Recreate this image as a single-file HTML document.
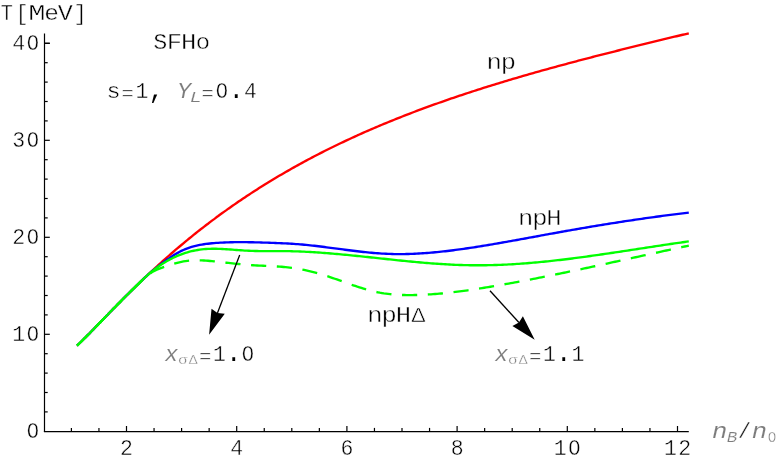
<!DOCTYPE html>
<html><head><meta charset="utf-8"><title>T vs nB</title>
<style>
html,body{margin:0;padding:0;background:#fff;}
svg{display:block;}
text{font-family:"Liberation Mono",monospace;}
</style></head>
<body>
<svg width="778" height="461" viewBox="0 0 778 461">
<rect width="778" height="461" fill="#fff"/>
<g stroke="#000" stroke-width="1.2" fill="none">
<line x1="44.5" y1="33.4" x2="44.5" y2="431.9"/>
<line x1="43.9" y1="431.6" x2="688.8" y2="431.6"/>
<line x1="71.40" y1="431.3" x2="71.40" y2="427.90"/><line x1="98.95" y1="431.3" x2="98.95" y2="427.90"/><line x1="126.50" y1="431.3" x2="126.50" y2="426.00"/><line x1="154.05" y1="431.3" x2="154.05" y2="427.90"/><line x1="181.60" y1="431.3" x2="181.60" y2="427.90"/><line x1="209.15" y1="431.3" x2="209.15" y2="427.90"/><line x1="236.70" y1="431.3" x2="236.70" y2="426.00"/><line x1="264.25" y1="431.3" x2="264.25" y2="427.90"/><line x1="291.80" y1="431.3" x2="291.80" y2="427.90"/><line x1="319.35" y1="431.3" x2="319.35" y2="427.90"/><line x1="346.90" y1="431.3" x2="346.90" y2="426.00"/><line x1="374.45" y1="431.3" x2="374.45" y2="427.90"/><line x1="402.00" y1="431.3" x2="402.00" y2="427.90"/><line x1="429.55" y1="431.3" x2="429.55" y2="427.90"/><line x1="457.10" y1="431.3" x2="457.10" y2="426.00"/><line x1="484.65" y1="431.3" x2="484.65" y2="427.90"/><line x1="512.20" y1="431.3" x2="512.20" y2="427.90"/><line x1="539.75" y1="431.3" x2="539.75" y2="427.90"/><line x1="567.30" y1="431.3" x2="567.30" y2="426.00"/><line x1="594.85" y1="431.3" x2="594.85" y2="427.90"/><line x1="622.40" y1="431.3" x2="622.40" y2="427.90"/><line x1="649.95" y1="431.3" x2="649.95" y2="427.90"/><line x1="677.50" y1="431.3" x2="677.50" y2="426.00"/>
<line x1="44.5" y1="411.90" x2="47.70" y2="411.90"/><line x1="44.5" y1="392.50" x2="47.70" y2="392.50"/><line x1="44.5" y1="373.10" x2="47.70" y2="373.10"/><line x1="44.5" y1="353.70" x2="47.70" y2="353.70"/><line x1="44.5" y1="334.30" x2="49.80" y2="334.30"/><line x1="44.5" y1="314.90" x2="47.70" y2="314.90"/><line x1="44.5" y1="295.50" x2="47.70" y2="295.50"/><line x1="44.5" y1="276.10" x2="47.70" y2="276.10"/><line x1="44.5" y1="256.70" x2="47.70" y2="256.70"/><line x1="44.5" y1="237.30" x2="49.80" y2="237.30"/><line x1="44.5" y1="217.90" x2="47.70" y2="217.90"/><line x1="44.5" y1="198.50" x2="47.70" y2="198.50"/><line x1="44.5" y1="179.10" x2="47.70" y2="179.10"/><line x1="44.5" y1="159.70" x2="47.70" y2="159.70"/><line x1="44.5" y1="140.30" x2="49.80" y2="140.30"/><line x1="44.5" y1="120.90" x2="47.70" y2="120.90"/><line x1="44.5" y1="101.50" x2="47.70" y2="101.50"/><line x1="44.5" y1="82.10" x2="47.70" y2="82.10"/><line x1="44.5" y1="62.70" x2="47.70" y2="62.70"/><line x1="44.5" y1="43.30" x2="49.80" y2="43.30"/><line x1="44.5" y1="43.30" x2="49.8" y2="43.30"/>
</g>
<g fill="none" stroke-width="2.35" stroke-linejoin="round">
<path d="M77.0,345.70 L79.0,343.75 L81.1,341.77 L83.1,339.75 L85.2,337.71 L87.2,335.65 L89.3,333.58 L91.3,331.49 L93.4,329.39 L95.4,327.29 L97.5,325.18 L99.5,323.06 L101.6,320.95 L103.6,318.83 L105.6,316.72 L107.7,314.61 L109.7,312.50 L111.8,310.40 L113.8,308.30 L115.9,306.21 L117.9,304.13 L120.0,302.06 L122.0,299.99 L124.1,297.94 L126.1,295.89 L128.2,293.85 L130.2,291.83 L132.2,289.81 L134.3,287.80 L136.3,285.81 L138.4,283.83 L140.4,281.86 L142.5,279.90 L144.5,277.95 L146.6,276.01 L148.6,274.09 L150.7,272.18 L152.7,270.28 L154.8,268.39 L156.8,266.52 L158.8,264.66 L160.9,262.81 L162.9,260.97 L165.0,259.15 L167.0,257.34 L169.1,255.54 L171.1,253.75 L173.2,251.98 L175.2,250.22 L177.3,248.47 L179.3,246.74 L181.4,245.01 L183.4,243.30 L185.4,241.60 L187.5,239.92 L189.5,238.24 L191.6,236.58 L193.6,234.93 L195.7,233.29 L197.7,231.67 L199.8,230.05 L201.8,228.45 L203.9,226.86 L205.9,225.28 L208.0,223.72 L210.0,222.16 L212.0,220.62 L214.1,219.09 L216.1,217.56 L218.2,216.06 L220.2,214.56 L222.3,213.07 L224.3,211.59 L226.4,210.13 L228.4,208.67 L230.5,207.23 L232.5,205.80 L234.6,204.37 L236.6,202.96 L238.6,201.56 L240.7,200.17 L242.7,198.79 L244.8,197.42 L246.8,196.06 L248.9,194.71 L250.9,193.37 L253.0,192.04 L255.0,190.72 L257.1,189.40 L259.1,188.10 L261.2,186.81 L263.2,185.53 L265.2,184.26 L267.3,182.99 L269.3,181.74 L271.4,180.49 L273.4,179.26 L275.5,178.03 L277.5,176.81 L279.6,175.60 L281.6,174.40 L283.7,173.21 L285.7,172.02 L287.8,170.85 L289.8,169.68 L291.8,168.52 L293.9,167.37 L295.9,166.23 L298.0,165.10 L300.0,163.97 L302.1,162.86 L304.1,161.75 L306.2,160.65 L308.2,159.55 L310.3,158.47 L312.3,157.39 L314.4,156.32 L316.4,155.25 L318.4,154.20 L320.5,153.15 L322.5,152.11 L324.6,151.07 L326.6,150.04 L328.7,149.02 L330.7,148.01 L332.8,147.01 L334.8,146.01 L336.9,145.01 L338.9,144.03 L341.0,143.05 L343.0,142.08 L345.0,141.11 L347.1,140.15 L349.1,139.20 L351.2,138.25 L353.2,137.31 L355.3,136.38 L357.3,135.45 L359.4,134.53 L361.4,133.61 L363.5,132.70 L365.5,131.80 L367.6,130.90 L369.6,130.01 L371.6,129.12 L373.7,128.24 L375.7,127.37 L377.8,126.50 L379.8,125.64 L381.9,124.78 L383.9,123.92 L386.0,123.08 L388.0,122.24 L390.1,121.40 L392.1,120.57 L394.2,119.74 L396.2,118.92 L398.2,118.10 L400.3,117.29 L402.3,116.48 L404.4,115.68 L406.4,114.89 L408.5,114.09 L410.5,113.31 L412.6,112.52 L414.6,111.75 L416.7,110.97 L418.7,110.21 L420.8,109.44 L422.8,108.68 L424.8,107.93 L426.9,107.17 L428.9,106.43 L431.0,105.69 L433.0,104.95 L435.1,104.21 L437.1,103.48 L439.2,102.76 L441.2,102.04 L443.3,101.32 L445.3,100.60 L447.4,99.89 L449.4,99.19 L451.4,98.48 L453.5,97.79 L455.5,97.09 L457.6,96.40 L459.6,95.71 L461.7,95.03 L463.7,94.35 L465.8,93.67 L467.8,93.00 L469.9,92.33 L471.9,91.66 L474.0,91.00 L476.0,90.34 L478.0,89.68 L480.1,89.03 L482.1,88.38 L484.2,87.73 L486.2,87.09 L488.3,86.44 L490.3,85.81 L492.4,85.17 L494.4,84.54 L496.5,83.91 L498.5,83.28 L500.6,82.66 L502.6,82.04 L504.6,81.42 L506.7,80.81 L508.7,80.19 L510.8,79.58 L512.8,78.98 L514.9,78.37 L516.9,77.77 L519.0,77.17 L521.0,76.57 L523.1,75.98 L525.1,75.39 L527.2,74.80 L529.2,74.21 L531.2,73.63 L533.3,73.04 L535.3,72.46 L537.4,71.89 L539.4,71.31 L541.5,70.74 L543.5,70.16 L545.6,69.59 L547.6,69.03 L549.7,68.46 L551.7,67.90 L553.8,67.34 L555.8,66.78 L557.8,66.22 L559.9,65.66 L561.9,65.11 L564.0,64.56 L566.0,64.01 L568.1,63.46 L570.1,62.91 L572.2,62.37 L574.2,61.82 L576.3,61.28 L578.3,60.74 L580.4,60.20 L582.4,59.67 L584.4,59.13 L586.5,58.60 L588.5,58.07 L590.6,57.54 L592.6,57.01 L594.7,56.48 L596.7,55.95 L598.8,55.43 L600.8,54.90 L602.9,54.38 L604.9,53.86 L607.0,53.34 L609.0,52.82 L611.0,52.30 L613.1,51.79 L615.1,51.27 L617.2,50.76 L619.2,50.24 L621.3,49.73 L623.3,49.22 L625.4,48.71 L627.4,48.20 L629.5,47.69 L631.5,47.19 L633.6,46.68 L635.6,46.18 L637.6,45.67 L639.7,45.17 L641.7,44.67 L643.8,44.17 L645.8,43.67 L647.9,43.17 L649.9,42.67 L652.0,42.17 L654.0,41.67 L656.1,41.17 L658.1,40.68 L660.2,40.18 L662.2,39.69 L664.2,39.19 L666.3,38.70 L668.3,38.20 L670.4,37.71 L672.4,37.22 L674.5,36.73 L676.5,36.24 L678.6,35.74 L680.6,35.25 L682.7,34.76 L684.7,34.27 L686.8,33.79 L688.8,33.30" stroke="#ff0000"/>
<path d="M77.0,345.70 L79.0,343.75 L81.1,341.77 L83.1,339.75 L85.2,337.71 L87.2,335.65 L89.3,333.58 L91.3,331.49 L93.4,329.39 L95.4,327.29 L97.5,325.18 L99.5,323.06 L101.6,320.95 L103.6,318.83 L105.6,316.72 L107.7,314.61 L109.7,312.50 L111.8,310.40 L113.8,308.30 L115.9,306.21 L117.9,304.13 L120.0,302.06 L122.0,299.99 L124.1,297.94 L126.1,295.89 L128.2,293.85 L130.2,291.83 L132.2,289.81 L134.3,287.80 L136.3,285.81 L138.4,283.82 L140.4,281.84 L142.5,279.86 L144.5,277.92 L146.6,276.04 L148.6,274.21 L150.7,272.45 L152.7,270.73 L154.8,269.07 L156.8,267.44 L158.8,265.86 L160.9,264.31 L162.9,262.78 L165.0,261.27 L167.0,259.79 L169.1,258.35 L171.1,256.95 L173.2,255.61 L175.2,254.32 L177.3,253.11 L179.3,251.97 L181.4,250.92 L183.4,249.96 L185.4,249.09 L187.5,248.29 L189.5,247.57 L191.6,246.92 L193.6,246.34 L195.7,245.81 L197.7,245.35 L199.8,244.93 L201.8,244.57 L203.9,244.24 L205.9,243.96 L208.0,243.71 L210.0,243.49 L212.0,243.29 L214.1,243.11 L216.1,242.95 L218.2,242.81 L220.2,242.68 L222.3,242.57 L224.3,242.48 L226.4,242.39 L228.4,242.32 L230.5,242.26 L232.5,242.22 L234.6,242.18 L236.6,242.16 L238.6,242.15 L240.7,242.14 L242.7,242.15 L244.8,242.16 L246.8,242.18 L248.9,242.21 L250.9,242.25 L253.0,242.29 L255.0,242.34 L257.1,242.39 L259.1,242.44 L261.2,242.50 L263.2,242.56 L265.2,242.63 L267.3,242.69 L269.3,242.76 L271.4,242.83 L273.4,242.90 L275.5,242.98 L277.5,243.06 L279.6,243.14 L281.6,243.23 L283.7,243.33 L285.7,243.43 L287.8,243.54 L289.8,243.65 L291.8,243.78 L293.9,243.91 L295.9,244.05 L298.0,244.20 L300.0,244.37 L302.1,244.54 L304.1,244.73 L306.2,244.92 L308.2,245.13 L310.3,245.34 L312.3,245.56 L314.4,245.79 L316.4,246.03 L318.4,246.27 L320.5,246.52 L322.5,246.78 L324.6,247.04 L326.6,247.30 L328.7,247.56 L330.7,247.83 L332.8,248.10 L334.8,248.38 L336.9,248.65 L338.9,248.92 L341.0,249.19 L343.0,249.46 L345.0,249.73 L347.1,250.00 L349.1,250.26 L351.2,250.52 L353.2,250.78 L355.3,251.03 L357.3,251.28 L359.4,251.52 L361.4,251.75 L363.5,251.97 L365.5,252.19 L367.6,252.40 L369.6,252.60 L371.6,252.79 L373.7,252.97 L375.7,253.14 L377.8,253.29 L379.8,253.43 L381.9,253.57 L383.9,253.68 L386.0,253.78 L388.0,253.87 L390.1,253.94 L392.1,254.00 L394.2,254.05 L396.2,254.08 L398.2,254.09 L400.3,254.09 L402.3,254.08 L404.4,254.06 L406.4,254.02 L408.5,253.97 L410.5,253.91 L412.6,253.83 L414.6,253.75 L416.7,253.65 L418.7,253.54 L420.8,253.42 L422.8,253.29 L424.8,253.15 L426.9,252.99 L428.9,252.83 L431.0,252.66 L433.0,252.48 L435.1,252.29 L437.1,252.09 L439.2,251.89 L441.2,251.67 L443.3,251.45 L445.3,251.21 L447.4,250.97 L449.4,250.73 L451.4,250.47 L453.5,250.21 L455.5,249.95 L457.6,249.67 L459.6,249.40 L461.7,249.11 L463.7,248.82 L465.8,248.52 L467.8,248.22 L469.9,247.92 L471.9,247.61 L474.0,247.30 L476.0,246.98 L478.0,246.66 L480.1,246.33 L482.1,246.00 L484.2,245.67 L486.2,245.33 L488.3,244.99 L490.3,244.65 L492.4,244.30 L494.4,243.95 L496.5,243.60 L498.5,243.25 L500.6,242.89 L502.6,242.53 L504.6,242.17 L506.7,241.81 L508.7,241.45 L510.8,241.08 L512.8,240.71 L514.9,240.34 L516.9,239.97 L519.0,239.60 L521.0,239.22 L523.1,238.85 L525.1,238.48 L527.2,238.10 L529.2,237.72 L531.2,237.35 L533.3,236.97 L535.3,236.59 L537.4,236.22 L539.4,235.84 L541.5,235.46 L543.5,235.09 L545.6,234.71 L547.6,234.34 L549.7,233.96 L551.7,233.59 L553.8,233.22 L555.8,232.85 L557.8,232.48 L559.9,232.11 L561.9,231.74 L564.0,231.38 L566.0,231.02 L568.1,230.65 L570.1,230.29 L572.2,229.93 L574.2,229.58 L576.3,229.22 L578.3,228.87 L580.4,228.52 L582.4,228.17 L584.4,227.82 L586.5,227.47 L588.5,227.12 L590.6,226.78 L592.6,226.44 L594.7,226.10 L596.7,225.76 L598.8,225.42 L600.8,225.09 L602.9,224.76 L604.9,224.42 L607.0,224.09 L609.0,223.77 L611.0,223.44 L613.1,223.12 L615.1,222.80 L617.2,222.48 L619.2,222.16 L621.3,221.84 L623.3,221.53 L625.4,221.21 L627.4,220.90 L629.5,220.60 L631.5,220.29 L633.6,219.99 L635.6,219.68 L637.6,219.38 L639.7,219.09 L641.7,218.79 L643.8,218.50 L645.8,218.20 L647.9,217.92 L649.9,217.63 L652.0,217.34 L654.0,217.06 L656.1,216.78 L658.1,216.50 L660.2,216.22 L662.2,215.95 L664.2,215.68 L666.3,215.41 L668.3,215.14 L670.4,214.88 L672.4,214.61 L674.5,214.35 L676.5,214.10 L678.6,213.84 L680.6,213.59 L682.7,213.34 L684.7,213.09 L686.8,212.84 L688.8,212.60" stroke="#0000ff"/>
<path d="M77.0,345.70 L79.0,343.75 L81.1,341.77 L83.1,339.75 L85.2,337.71 L87.2,335.65 L89.3,333.58 L91.3,331.49 L93.4,329.39 L95.4,327.29 L97.5,325.18 L99.5,323.06 L101.6,320.95 L103.6,318.83 L105.6,316.72 L107.7,314.61 L109.7,312.50 L111.8,310.40 L113.8,308.30 L115.9,306.21 L117.9,304.13 L120.0,302.06 L122.0,299.99 L124.1,297.94 L126.1,295.89 L128.2,293.85 L130.2,291.83 L132.2,289.81 L134.3,287.80 L136.3,285.83 L138.4,283.84 L140.4,281.83 L142.5,279.81 L144.5,277.87 L146.6,276.08 L148.6,274.47 L150.7,273.03 L152.7,271.77 L154.8,270.65 L156.8,269.68 L158.8,268.82 L160.9,268.05 L162.9,267.34 L165.0,266.64 L167.0,265.95 L169.1,265.26 L171.1,264.59 L173.2,263.95 L175.2,263.35 L177.3,262.80 L179.3,262.29 L181.4,261.84 L183.4,261.44 L185.4,261.10 L187.5,260.82 L189.5,260.60 L191.6,260.44 L193.6,260.33 L195.7,260.28 L197.7,260.27 L199.8,260.31 L201.8,260.38 L203.9,260.49 L205.9,260.63 L208.0,260.79 L210.0,260.97 L212.0,261.17 L214.1,261.37 L216.1,261.59 L218.2,261.81 L220.2,262.03 L222.3,262.25 L224.3,262.48 L226.4,262.71 L228.4,262.93 L230.5,263.16 L232.5,263.38 L234.6,263.60 L236.6,263.81 L238.6,264.02 L240.7,264.22 L242.7,264.42 L244.8,264.60 L246.8,264.77 L248.9,264.94 L250.9,265.09 L253.0,265.22 L255.0,265.35 L257.1,265.46 L259.1,265.57 L261.2,265.67 L263.2,265.76 L265.2,265.86 L267.3,265.95 L269.3,266.05 L271.4,266.15 L273.4,266.25 L275.5,266.37 L277.5,266.50 L279.6,266.64 L281.6,266.79 L283.7,266.96 L285.7,267.15 L287.8,267.36 L289.8,267.60 L291.8,267.86 L293.9,268.15 L295.9,268.46 L298.0,268.80 L300.0,269.16 L302.1,269.55 L304.1,269.97 L306.2,270.41 L308.2,270.87 L310.3,271.35 L312.3,271.86 L314.4,272.39 L316.4,272.94 L318.4,273.51 L320.5,274.10 L322.5,274.71 L324.6,275.34 L326.6,275.98 L328.7,276.65 L330.7,277.33 L332.8,278.03 L334.8,278.74 L336.9,279.46 L338.9,280.18 L341.0,280.91 L343.0,281.65 L345.0,282.38 L347.1,283.11 L349.1,283.84 L351.2,284.56 L353.2,285.27 L355.3,285.97 L357.3,286.66 L359.4,287.33 L361.4,287.98 L363.5,288.62 L365.5,289.23 L367.6,289.82 L369.6,290.37 L371.6,290.90 L373.7,291.40 L375.7,291.87 L377.8,292.29 L379.8,292.69 L381.9,293.04 L383.9,293.37 L386.0,293.66 L388.0,293.92 L390.1,294.15 L392.1,294.35 L394.2,294.53 L396.2,294.68 L398.2,294.80 L400.3,294.90 L402.3,294.98 L404.4,295.03 L406.4,295.07 L408.5,295.09 L410.5,295.08 L412.6,295.07 L414.6,295.03 L416.7,294.99 L418.7,294.93 L420.8,294.85 L422.8,294.77 L424.8,294.67 L426.9,294.56 L428.9,294.44 L431.0,294.31 L433.0,294.16 L435.1,294.01 L437.1,293.85 L439.2,293.67 L441.2,293.49 L443.3,293.29 L445.3,293.09 L447.4,292.88 L449.4,292.65 L451.4,292.42 L453.5,292.18 L455.5,291.94 L457.6,291.68 L459.6,291.42 L461.7,291.15 L463.7,290.87 L465.8,290.59 L467.8,290.30 L469.9,290.00 L471.9,289.70 L474.0,289.40 L476.0,289.08 L478.0,288.76 L480.1,288.44 L482.1,288.11 L484.2,287.78 L486.2,287.44 L488.3,287.10 L490.3,286.76 L492.4,286.41 L494.4,286.06 L496.5,285.71 L498.5,285.36 L500.6,285.00 L502.6,284.64 L504.6,284.27 L506.7,283.91 L508.7,283.54 L510.8,283.17 L512.8,282.79 L514.9,282.42 L516.9,282.04 L519.0,281.66 L521.0,281.27 L523.1,280.89 L525.1,280.50 L527.2,280.11 L529.2,279.72 L531.2,279.32 L533.3,278.92 L535.3,278.53 L537.4,278.12 L539.4,277.72 L541.5,277.32 L543.5,276.91 L545.6,276.50 L547.6,276.09 L549.7,275.68 L551.7,275.26 L553.8,274.85 L555.8,274.43 L557.8,274.01 L559.9,273.59 L561.9,273.17 L564.0,272.74 L566.0,272.32 L568.1,271.89 L570.1,271.46 L572.2,271.03 L574.2,270.60 L576.3,270.17 L578.3,269.74 L580.4,269.30 L582.4,268.87 L584.4,268.43 L586.5,267.99 L588.5,267.55 L590.6,267.11 L592.6,266.67 L594.7,266.23 L596.7,265.79 L598.8,265.34 L600.8,264.90 L602.9,264.46 L604.9,264.01 L607.0,263.56 L609.0,263.12 L611.0,262.67 L613.1,262.22 L615.1,261.77 L617.2,261.32 L619.2,260.87 L621.3,260.42 L623.3,259.97 L625.4,259.52 L627.4,259.07 L629.5,258.62 L631.5,258.17 L633.6,257.71 L635.6,257.26 L637.6,256.81 L639.7,256.36 L641.7,255.91 L643.8,255.45 L645.8,255.00 L647.9,254.55 L649.9,254.10 L652.0,253.65 L654.0,253.20 L656.1,252.75 L658.1,252.29 L660.2,251.84 L662.2,251.39 L664.2,250.95 L666.3,250.50 L668.3,250.05 L670.4,249.60 L672.4,249.15 L674.5,248.71 L676.5,248.26 L678.6,247.81 L680.6,247.37 L682.7,246.93 L684.7,246.48 L686.8,246.04 L688.8,245.60" stroke="#00ff00" stroke-dasharray="15.2 10.6"/>
<path d="M77.0,345.70 L79.0,343.75 L81.1,341.77 L83.1,339.75 L85.2,337.71 L87.2,335.65 L89.3,333.58 L91.3,331.49 L93.4,329.39 L95.4,327.29 L97.5,325.18 L99.5,323.06 L101.6,320.95 L103.6,318.83 L105.6,316.72 L107.7,314.61 L109.7,312.50 L111.8,310.40 L113.8,308.30 L115.9,306.21 L117.9,304.13 L120.0,302.06 L122.0,299.99 L124.1,297.94 L126.1,295.89 L128.2,293.85 L130.2,291.83 L132.2,289.81 L134.3,287.80 L136.3,285.81 L138.4,283.82 L140.4,281.83 L142.5,279.86 L144.5,277.92 L146.6,276.04 L148.6,274.23 L150.7,272.50 L152.7,270.83 L154.8,269.23 L156.8,267.70 L158.8,266.24 L160.9,264.84 L162.9,263.51 L165.0,262.24 L167.0,261.04 L169.1,259.90 L171.1,258.82 L173.2,257.80 L175.2,256.84 L177.3,255.94 L179.3,255.10 L181.4,254.32 L183.4,253.59 L185.4,252.92 L187.5,252.30 L189.5,251.73 L191.6,251.22 L193.6,250.76 L195.7,250.35 L197.7,249.99 L199.8,249.68 L201.8,249.41 L203.9,249.19 L205.9,249.02 L208.0,248.89 L210.0,248.80 L212.0,248.75 L214.1,248.74 L216.1,248.76 L218.2,248.80 L220.2,248.87 L222.3,248.97 L224.3,249.08 L226.4,249.21 L228.4,249.35 L230.5,249.50 L232.5,249.66 L234.6,249.82 L236.6,249.98 L238.6,250.14 L240.7,250.29 L242.7,250.44 L244.8,250.57 L246.8,250.68 L248.9,250.78 L250.9,250.87 L253.0,250.93 L255.0,250.98 L257.1,251.02 L259.1,251.05 L261.2,251.07 L263.2,251.08 L265.2,251.09 L267.3,251.09 L269.3,251.09 L271.4,251.08 L273.4,251.07 L275.5,251.07 L277.5,251.07 L279.6,251.07 L281.6,251.08 L283.7,251.10 L285.7,251.12 L287.8,251.15 L289.8,251.19 L291.8,251.24 L293.9,251.30 L295.9,251.36 L298.0,251.44 L300.0,251.52 L302.1,251.60 L304.1,251.70 L306.2,251.80 L308.2,251.90 L310.3,252.02 L312.3,252.14 L314.4,252.26 L316.4,252.39 L318.4,252.53 L320.5,252.67 L322.5,252.82 L324.6,252.97 L326.6,253.13 L328.7,253.29 L330.7,253.46 L332.8,253.63 L334.8,253.81 L336.9,253.99 L338.9,254.17 L341.0,254.36 L343.0,254.55 L345.0,254.74 L347.1,254.94 L349.1,255.14 L351.2,255.34 L353.2,255.55 L355.3,255.75 L357.3,255.96 L359.4,256.17 L361.4,256.39 L363.5,256.60 L365.5,256.82 L367.6,257.03 L369.6,257.25 L371.6,257.47 L373.7,257.69 L375.7,257.91 L377.8,258.13 L379.8,258.35 L381.9,258.57 L383.9,258.79 L386.0,259.00 L388.0,259.22 L390.1,259.44 L392.1,259.66 L394.2,259.87 L396.2,260.08 L398.2,260.30 L400.3,260.51 L402.3,260.71 L404.4,260.92 L406.4,261.12 L408.5,261.32 L410.5,261.52 L412.6,261.72 L414.6,261.91 L416.7,262.10 L418.7,262.28 L420.8,262.46 L422.8,262.64 L424.8,262.82 L426.9,262.99 L428.9,263.15 L431.0,263.31 L433.0,263.47 L435.1,263.62 L437.1,263.76 L439.2,263.90 L441.2,264.04 L443.3,264.16 L445.3,264.29 L447.4,264.40 L449.4,264.51 L451.4,264.62 L453.5,264.71 L455.5,264.80 L457.6,264.89 L459.6,264.96 L461.7,265.03 L463.7,265.09 L465.8,265.14 L467.8,265.19 L469.9,265.23 L471.9,265.25 L474.0,265.27 L476.0,265.29 L478.0,265.29 L480.1,265.29 L482.1,265.27 L484.2,265.25 L486.2,265.23 L488.3,265.19 L490.3,265.15 L492.4,265.10 L494.4,265.04 L496.5,264.98 L498.5,264.90 L500.6,264.82 L502.6,264.74 L504.6,264.65 L506.7,264.55 L508.7,264.44 L510.8,264.33 L512.8,264.21 L514.9,264.09 L516.9,263.95 L519.0,263.82 L521.0,263.67 L523.1,263.53 L525.1,263.37 L527.2,263.21 L529.2,263.04 L531.2,262.87 L533.3,262.70 L535.3,262.51 L537.4,262.33 L539.4,262.14 L541.5,261.94 L543.5,261.74 L545.6,261.53 L547.6,261.32 L549.7,261.10 L551.7,260.88 L553.8,260.66 L555.8,260.43 L557.8,260.20 L559.9,259.96 L561.9,259.72 L564.0,259.47 L566.0,259.22 L568.1,258.97 L570.1,258.72 L572.2,258.46 L574.2,258.20 L576.3,257.93 L578.3,257.66 L580.4,257.39 L582.4,257.11 L584.4,256.84 L586.5,256.56 L588.5,256.28 L590.6,255.99 L592.6,255.70 L594.7,255.41 L596.7,255.12 L598.8,254.83 L600.8,254.53 L602.9,254.23 L604.9,253.93 L607.0,253.63 L609.0,253.33 L611.0,253.03 L613.1,252.72 L615.1,252.41 L617.2,252.11 L619.2,251.80 L621.3,251.49 L623.3,251.18 L625.4,250.86 L627.4,250.55 L629.5,250.24 L631.5,249.93 L633.6,249.61 L635.6,249.30 L637.6,248.99 L639.7,248.67 L641.7,248.36 L643.8,248.04 L645.8,247.73 L647.9,247.42 L649.9,247.11 L652.0,246.79 L654.0,246.48 L656.1,246.17 L658.1,245.86 L660.2,245.56 L662.2,245.25 L664.2,244.94 L666.3,244.64 L668.3,244.33 L670.4,244.03 L672.4,243.73 L674.5,243.43 L676.5,243.14 L678.6,242.84 L680.6,242.55 L682.7,242.26 L684.7,241.97 L686.8,241.68 L688.8,241.40" stroke="#00ff00"/>
</g>
<line x1="239.70" y1="254.90" x2="217.47" y2="312.95" stroke="#000" stroke-width="1.3"/><polygon points="209.10,334.80 211.52,308.63 217.47,312.95 224.78,313.71" fill="#000"/>
<line x1="490.00" y1="290.80" x2="518.93" y2="322.51" stroke="#000" stroke-width="1.3"/><polygon points="534.70,339.80 512.40,325.89 518.93,322.51 522.89,316.32" fill="#000"/>
<g opacity="0.999">
<text transform="translate(126.50,454.60) scale(1.0,1)" text-anchor="middle" font-size="21.5" fill="#000" stroke="#fff" stroke-width="0.4" style="font-family:'Liberation Mono',monospace;">2</text>
<text transform="translate(236.70,454.60) scale(1.0,1)" text-anchor="middle" font-size="21.5" fill="#000" stroke="#fff" stroke-width="0.4" style="font-family:'Liberation Mono',monospace;">4</text>
<text transform="translate(346.90,454.60) scale(1.0,1)" text-anchor="middle" font-size="21.5" fill="#000" stroke="#fff" stroke-width="0.4" style="font-family:'Liberation Mono',monospace;">6</text>
<text transform="translate(457.10,454.60) scale(1.0,1)" text-anchor="middle" font-size="21.5" fill="#000" stroke="#fff" stroke-width="0.4" style="font-family:'Liberation Mono',monospace;">8</text>
<text transform="translate(560.20,454.60) scale(1.0,1)" text-anchor="middle" font-size="21.5" fill="#000" stroke="#fff" stroke-width="0.4" style="font-family:'Liberation Mono',monospace;">1</text><text transform="translate(574.40,454.60) scale(0.96,1)" text-anchor="middle" font-size="21.3" fill="#000" stroke="#fff" stroke-width="0.4" style="font-family:'Liberation Mono',monospace;">O</text>
<text transform="translate(670.40,454.60) scale(1.0,1)" text-anchor="middle" font-size="21.5" fill="#000" stroke="#fff" stroke-width="0.4" style="font-family:'Liberation Mono',monospace;">1</text><text transform="translate(684.60,454.60) scale(1.0,1)" text-anchor="middle" font-size="21.5" fill="#000" stroke="#fff" stroke-width="0.4" style="font-family:'Liberation Mono',monospace;">2</text>
<text transform="translate(18.80,340.70) scale(1.0,1)" text-anchor="middle" font-size="21.5" fill="#000" stroke="#fff" stroke-width="0.4" style="font-family:'Liberation Mono',monospace;">1</text><text transform="translate(33.00,340.70) scale(0.96,1)" text-anchor="middle" font-size="21.3" fill="#000" stroke="#fff" stroke-width="0.4" style="font-family:'Liberation Mono',monospace;">O</text>
<text transform="translate(18.80,243.70) scale(1.0,1)" text-anchor="middle" font-size="21.5" fill="#000" stroke="#fff" stroke-width="0.4" style="font-family:'Liberation Mono',monospace;">2</text><text transform="translate(33.00,243.70) scale(0.96,1)" text-anchor="middle" font-size="21.3" fill="#000" stroke="#fff" stroke-width="0.4" style="font-family:'Liberation Mono',monospace;">O</text>
<text transform="translate(18.80,146.70) scale(1.0,1)" text-anchor="middle" font-size="21.5" fill="#000" stroke="#fff" stroke-width="0.4" style="font-family:'Liberation Mono',monospace;">3</text><text transform="translate(33.00,146.70) scale(0.96,1)" text-anchor="middle" font-size="21.3" fill="#000" stroke="#fff" stroke-width="0.4" style="font-family:'Liberation Mono',monospace;">O</text>
<text transform="translate(18.80,49.70) scale(1.0,1)" text-anchor="middle" font-size="21.5" fill="#000" stroke="#fff" stroke-width="0.4" style="font-family:'Liberation Mono',monospace;">4</text><text transform="translate(33.00,49.70) scale(0.96,1)" text-anchor="middle" font-size="21.3" fill="#000" stroke="#fff" stroke-width="0.4" style="font-family:'Liberation Mono',monospace;">O</text>
<text transform="translate(33.00,437.70) scale(0.96,1)" text-anchor="middle" font-size="21.3" fill="#000" stroke="#fff" stroke-width="0.4" style="font-family:'Liberation Mono',monospace;">O</text>
<text transform="translate(6.90,19.90) scale(0.95,1)" text-anchor="middle" font-size="21.3" fill="#000" stroke="#fff" stroke-width="0.4" style="font-family:'Liberation Mono',monospace;">T</text><text transform="translate(22.20,20.40) scale(1.0,1)" text-anchor="middle" font-size="22.0" fill="#000" stroke="#fff" stroke-width="0.4" style="font-family:'Liberation Mono',monospace;">[</text><text transform="translate(37.00,19.90) scale(1.36,1)" text-anchor="middle" font-size="21.3" fill="#000" stroke="#fff" stroke-width="0.4" style="font-family:'Liberation Mono',monospace;">M</text><text transform="translate(51.50,19.90) scale(1.15,1)" text-anchor="middle" font-size="21.3" fill="#000" stroke="#fff" stroke-width="0.4" style="font-family:'Liberation Mono',monospace;">e</text><text transform="translate(65.40,19.90) scale(1.18,1)" text-anchor="middle" font-size="21.3" fill="#000" stroke="#fff" stroke-width="0.4" style="font-family:'Liberation Mono',monospace;">V</text><text transform="translate(80.20,20.40) scale(1.0,1)" text-anchor="middle" font-size="22.0" fill="#000" stroke="#fff" stroke-width="0.4" style="font-family:'Liberation Mono',monospace;">]</text>
<text transform="translate(160.30,49.00) scale(1.1,1)" text-anchor="middle" font-size="21.3" fill="#000" stroke="#fff" stroke-width="0.4" style="font-family:'Liberation Mono',monospace;">S</text><text transform="translate(174.50,49.00) scale(1.2,1)" text-anchor="middle" font-size="21.3" fill="#000" stroke="#fff" stroke-width="0.4" style="font-family:'Liberation Mono',monospace;">F</text><text transform="translate(188.70,49.00) scale(1.2,1)" text-anchor="middle" font-size="21.3" fill="#000" stroke="#fff" stroke-width="0.4" style="font-family:'Liberation Mono',monospace;">H</text><text transform="translate(202.90,49.00) scale(1.12,1)" text-anchor="middle" font-size="21.3" fill="#000" stroke="#fff" stroke-width="0.4" style="font-family:'Liberation Mono',monospace;">o</text>
<text transform="translate(113.60,97.60) scale(1.1,1)" text-anchor="middle" font-size="21.3" fill="#000" stroke="#fff" stroke-width="0.4" style="font-family:'Liberation Mono',monospace;">s</text><text transform="translate(127.80,98.75) scale(1.11,1)" text-anchor="middle" font-size="18.6" fill="#000" stroke="#fff" stroke-width="0.45" style="font-family:'Liberation Mono',monospace;">=</text><text transform="translate(142.00,97.60) scale(1.0,1)" text-anchor="middle" font-size="21.5" fill="#000" stroke="#fff" stroke-width="0.4" style="font-family:'Liberation Mono',monospace;">1</text><text transform="translate(156.20,97.60) scale(1.0,1)" text-anchor="middle" font-size="25.0" fill="#000" stroke="#fff" stroke-width="0.0" style="font-family:'Liberation Mono',monospace;">,</text>
<text transform="translate(184.00,97.60) scale(1.1,1)" text-anchor="middle" font-size="21.3" fill="#7c7c7c" stroke="#fff" stroke-width="0.1" style="font-family:'Liberation Mono',monospace;font-style:italic;">Y</text>
<text transform="translate(195.80,102.20) scale(1.45,1)" text-anchor="middle" font-size="14.5" fill="#7c7c7c" stroke="#fff" stroke-width="0.2" style="font-family:'Liberation Mono',monospace;font-style:italic;">L</text>
<text transform="translate(207.80,98.75) scale(1.11,1)" text-anchor="middle" font-size="18.6" fill="#000" stroke="#fff" stroke-width="0.45" style="font-family:'Liberation Mono',monospace;">=</text><text transform="translate(222.00,97.60) scale(0.96,1)" text-anchor="middle" font-size="21.3" fill="#000" stroke="#fff" stroke-width="0.4" style="font-family:'Liberation Mono',monospace;">O</text><text transform="translate(236.20,97.60) scale(1.0,1)" text-anchor="middle" font-size="25.0" fill="#000" stroke="#fff" stroke-width="0.0" style="font-family:'Liberation Mono',monospace;">.</text><text transform="translate(250.40,97.60) scale(1.0,1)" text-anchor="middle" font-size="21.5" fill="#000" stroke="#fff" stroke-width="0.4" style="font-family:'Liberation Mono',monospace;">4</text>
<text transform="translate(494.10,68.60) scale(1.2,1)" text-anchor="middle" font-size="21.3" fill="#000" stroke="#fff" stroke-width="0.4" style="font-family:'Liberation Mono',monospace;">n</text><text transform="translate(508.30,68.60) scale(1.2,1)" text-anchor="middle" font-size="21.3" fill="#000" stroke="#fff" stroke-width="0.4" style="font-family:'Liberation Mono',monospace;">p</text>
<text transform="translate(525.60,224.70) scale(1.2,1)" text-anchor="middle" font-size="21.3" fill="#000" stroke="#fff" stroke-width="0.4" style="font-family:'Liberation Mono',monospace;">n</text><text transform="translate(539.80,224.70) scale(1.2,1)" text-anchor="middle" font-size="21.3" fill="#000" stroke="#fff" stroke-width="0.4" style="font-family:'Liberation Mono',monospace;">p</text><text transform="translate(554.00,224.70) scale(1.2,1)" text-anchor="middle" font-size="21.3" fill="#000" stroke="#fff" stroke-width="0.4" style="font-family:'Liberation Mono',monospace;">H</text>
<text transform="translate(375.00,321.70) scale(1.2,1)" text-anchor="middle" font-size="21.3" fill="#000" stroke="#fff" stroke-width="0.4" style="font-family:'Liberation Mono',monospace;">n</text><text transform="translate(389.20,321.70) scale(1.2,1)" text-anchor="middle" font-size="21.3" fill="#000" stroke="#fff" stroke-width="0.4" style="font-family:'Liberation Mono',monospace;">p</text><text transform="translate(403.40,321.70) scale(1.2,1)" text-anchor="middle" font-size="21.3" fill="#000" stroke="#fff" stroke-width="0.4" style="font-family:'Liberation Mono',monospace;">H</text>
<text transform="translate(418.40,321.70) scale(1.08,1)" text-anchor="middle" font-size="20.5" fill="#000" stroke="#fff" stroke-width="0.5" style="font-family:'Liberation Sans',sans-serif;">Δ</text>
<text transform="translate(171.50,360.50) scale(1.05,1)" text-anchor="middle" font-size="21.3" fill="#7c7c7c" stroke="#fff" stroke-width="0.1" style="font-family:'Liberation Mono',monospace;font-style:italic;">x</text>
<text transform="translate(183.10,364.20) scale(1.25,1)" text-anchor="middle" font-size="12.5" fill="#7c7c7c" stroke="#fff" stroke-width="0.3" style="font-family:'Liberation Sans',sans-serif;">σ</text><text transform="translate(193.20,364.00) scale(1.12,1)" text-anchor="middle" font-size="12.5" fill="#7c7c7c" stroke="#fff" stroke-width="0.3" style="font-family:'Liberation Sans',sans-serif;">Δ</text>
<text transform="translate(501.50,360.50) scale(1.05,1)" text-anchor="middle" font-size="21.3" fill="#7c7c7c" stroke="#fff" stroke-width="0.1" style="font-family:'Liberation Mono',monospace;font-style:italic;">x</text>
<text transform="translate(513.10,364.20) scale(1.25,1)" text-anchor="middle" font-size="12.5" fill="#7c7c7c" stroke="#fff" stroke-width="0.3" style="font-family:'Liberation Sans',sans-serif;">σ</text><text transform="translate(523.20,364.00) scale(1.12,1)" text-anchor="middle" font-size="12.5" fill="#7c7c7c" stroke="#fff" stroke-width="0.3" style="font-family:'Liberation Sans',sans-serif;">Δ</text>
<text transform="translate(205.30,361.65) scale(1.11,1)" text-anchor="middle" font-size="18.6" fill="#000" stroke="#fff" stroke-width="0.45" style="font-family:'Liberation Mono',monospace;">=</text><text transform="translate(219.50,360.50) scale(1.0,1)" text-anchor="middle" font-size="21.5" fill="#000" stroke="#fff" stroke-width="0.4" style="font-family:'Liberation Mono',monospace;">1</text><text transform="translate(233.70,360.50) scale(1.0,1)" text-anchor="middle" font-size="25.0" fill="#000" stroke="#fff" stroke-width="0.0" style="font-family:'Liberation Mono',monospace;">.</text><text transform="translate(247.90,360.50) scale(0.96,1)" text-anchor="middle" font-size="21.3" fill="#000" stroke="#fff" stroke-width="0.4" style="font-family:'Liberation Mono',monospace;">O</text>
<text transform="translate(535.30,361.65) scale(1.11,1)" text-anchor="middle" font-size="18.6" fill="#000" stroke="#fff" stroke-width="0.45" style="font-family:'Liberation Mono',monospace;">=</text><text transform="translate(549.50,360.50) scale(1.0,1)" text-anchor="middle" font-size="21.5" fill="#000" stroke="#fff" stroke-width="0.4" style="font-family:'Liberation Mono',monospace;">1</text><text transform="translate(563.70,360.50) scale(1.0,1)" text-anchor="middle" font-size="25.0" fill="#000" stroke="#fff" stroke-width="0.0" style="font-family:'Liberation Mono',monospace;">.</text><text transform="translate(577.90,360.50) scale(1.0,1)" text-anchor="middle" font-size="21.5" fill="#000" stroke="#fff" stroke-width="0.4" style="font-family:'Liberation Mono',monospace;">1</text>
<text transform="translate(719.70,438.00) scale(1.2,1)" text-anchor="middle" font-size="21.3" fill="#7c7c7c" stroke="#fff" stroke-width="0.1" style="font-family:'Liberation Mono',monospace;font-style:italic;">n</text>
<text transform="translate(732.10,441.80) scale(1.22,1)" text-anchor="middle" font-size="14.5" fill="#7c7c7c" stroke="#fff" stroke-width="0.2" style="font-family:'Liberation Mono',monospace;font-style:italic;">B</text><text transform="translate(744.60,438.00) scale(1.05,1)" text-anchor="middle" font-size="21.5" fill="#222" stroke="#fff" stroke-width="0.4" style="font-family:'Liberation Mono',monospace;">/</text>
<text transform="translate(759.30,438.00) scale(1.2,1)" text-anchor="middle" font-size="21.3" fill="#7c7c7c" stroke="#fff" stroke-width="0.1" style="font-family:'Liberation Mono',monospace;font-style:italic;">n</text>
<text transform="translate(772.00,441.80) scale(1.0,1)" text-anchor="middle" font-size="14.5" fill="#7c7c7c" stroke="#fff" stroke-width="0.3" style="font-family:'Liberation Sans',sans-serif;">0</text>
</g>
</svg>
</body></html>
